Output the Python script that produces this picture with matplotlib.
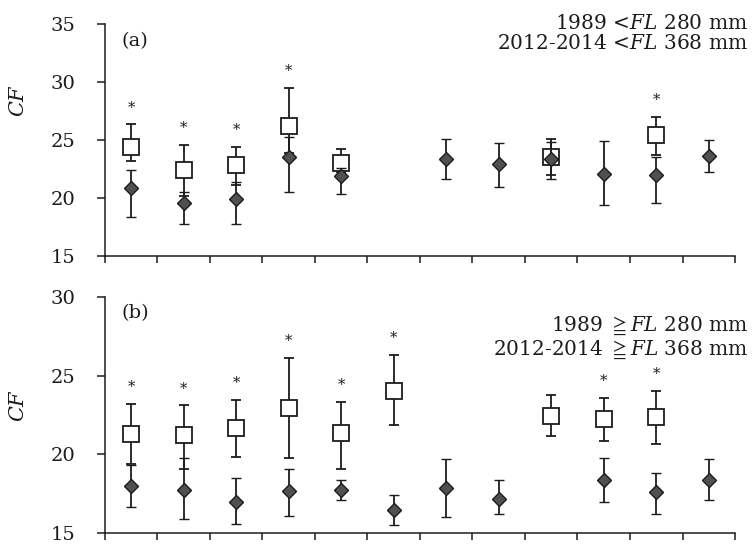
import numpy as np
import matplotlib
matplotlib.use("Agg")
import matplotlib.pyplot as plt

plt.rcParams['font.family'] = ['DejaVu Serif', 'DejaVu Sans']
plt.rcParams['mathtext.fontset'] = 'custom'
plt.rcParams['mathtext.rm'] = 'DejaVu Serif'
plt.rcParams['mathtext.it'] = 'DejaVu Serif:italic'
plt.rcParams['mathtext.fallback'] = 'stix'

nan = np.nan
months = np.arange(1, 13)

# (a) small fish: 1989 (open squares) and 2012-2014 (filled diamonds)
sq_a = [24.4, 22.4, 22.85, 26.2, 23.05, nan, nan, nan, 23.5, nan, 25.45, nan]
sq_a_hi = [26.35, 24.6, 24.4, 29.5, 24.2, nan, nan, nan, 25.1, nan, 27.0, nan]
sq_a_lo = [23.2, 20.2, 21.1, 23.9, 22.2, nan, nan, nan, 22.0, nan, 23.7, nan]
dia_a = [20.85, 19.6, 19.9, 23.55, 21.9, nan, 23.35, 22.95, 23.35, 22.1, 22.0, 23.6]
dia_a_hi = [22.4, 20.5, 21.4, 25.3, 22.6, nan, 25.05, 24.75, 24.8, 24.9, 23.5, 25.0]
dia_a_lo = [18.4, 17.75, 17.75, 20.5, 20.35, nan, 21.6, 20.95, 21.6, 19.4, 19.6, 22.2]
star_a = [1, 2, 3, 4, 11]

# (b) large fish
sq_b = [21.3, 21.2, 21.7, 22.95, 21.35, 24.05, nan, nan, 22.45, 22.25, 22.35, nan]
sq_b_hi = [23.2, 23.1, 23.45, 26.1, 23.35, 26.3, nan, nan, 23.75, 23.6, 24.05, nan]
sq_b_lo = [19.4, 19.1, 19.85, 19.75, 19.1, 21.85, nan, nan, 21.15, 20.85, 20.65, nan]
dia_b = [18.0, 17.75, 17.0, 17.65, 17.75, 16.5, 17.85, 17.2, nan, 18.35, 17.6, 18.4]
dia_b_hi = [19.3, 19.75, 18.5, 19.1, 18.4, 17.45, 19.7, 18.35, nan, 19.8, 18.85, 19.7]
dia_b_lo = [16.65, 15.9, 15.6, 16.1, 17.1, 15.55, 16.05, 16.2, nan, 16.98, 16.25, 17.1]
star_b = [1, 2, 3, 4, 5, 6, 10, 11]

label_a = "1989 <$\\mathit{FL}$ 280 mm\n2012-2014 <$\\mathit{FL}$ 368 mm"
label_b = "1989 $\\geqq\\mathit{FL}$ 280 mm\n2012-2014 $\\geqq\\mathit{FL}$ 368 mm"

ink = '#1c1c1c'


def panel(ax, sq, sq_hi, sq_lo, dia, dia_hi, dia_lo, stars, ylim, tag, label, txt_y, cf_y):
    sq = np.array(sq); dia = np.array(dia)
    ax.errorbar(months, sq, yerr=[sq - np.array(sq_lo), np.array(sq_hi) - sq],
                fmt='s', ms=12, mfc='white', mec=ink, mew=1.3,
                ecolor=ink, elinewidth=1.3, capsize=3.6, capthick=1.3, zorder=2)
    ax.errorbar(months, dia, yerr=[dia - np.array(dia_lo), np.array(dia_hi) - dia],
                fmt='D', ms=7, mfc='#505050', mec=ink, mew=1.0,
                ecolor=ink, elinewidth=1.3, capsize=3.6, capthick=1.3, zorder=3)
    for m in stars:
        ax.annotate('*', xy=(m, sq_hi[m - 1]), xytext=(0, 7), textcoords='offset points',
                    ha='center', va='bottom', fontsize=10.5, color=ink)
    ax.set_xlim(0.5, 12.5)
    ax.set_ylim(*ylim)
    ax.set_yticks(np.arange(ylim[0], ylim[1] + 1, 5))
    ax.set_xticks(np.arange(0.5, 13, 1))
    ax.set_xticklabels([])
    for s in ['top', 'right']:
        ax.spines[s].set_visible(False)
    for s in ['left', 'bottom']:
        ax.spines[s].set_linewidth(1.1)
        ax.spines[s].set_color(ink)
    ax.tick_params(axis='y', direction='out', length=6, width=1.1, pad=15,
                   labelsize=14, colors=ink)
    ax.tick_params(axis='x', direction='out', length=5, width=1.1, colors=ink)
    ax.set_ylabel('$\\mathit{CF}$', fontsize=15, color=ink)
    ax.yaxis.set_label_coords(-0.122, cf_y)
    ax.text(0.026, 0.967, tag, transform=ax.transAxes, ha='left', va='top',
            fontsize=14, color=ink)
    ax.text(1.021, txt_y, label, transform=ax.transAxes, ha='right', va='top',
            fontsize=14.5, color=ink, multialignment='right', linespacing=1.1)


fig = plt.figure(figsize=(7.53, 5.44), dpi=100)
ax1 = fig.add_axes([0.1394, 0.5294, 0.8367, 0.4265])
ax2 = fig.add_axes([0.1394, 0.0197, 0.8367, 0.435])

panel(ax1, sq_a, sq_a_hi, sq_a_lo, dia_a, dia_a_hi, dia_a_lo, star_a,
      (15, 35), '(a)', label_a, 1.045, 0.672)
panel(ax2, sq_b, sq_b_hi, sq_b_lo, dia_b, dia_b_hi, dia_b_lo, star_b,
      (15, 30), '(b)', label_b, 0.925, 0.54)

fig.savefig('out.png', dpi=100)
